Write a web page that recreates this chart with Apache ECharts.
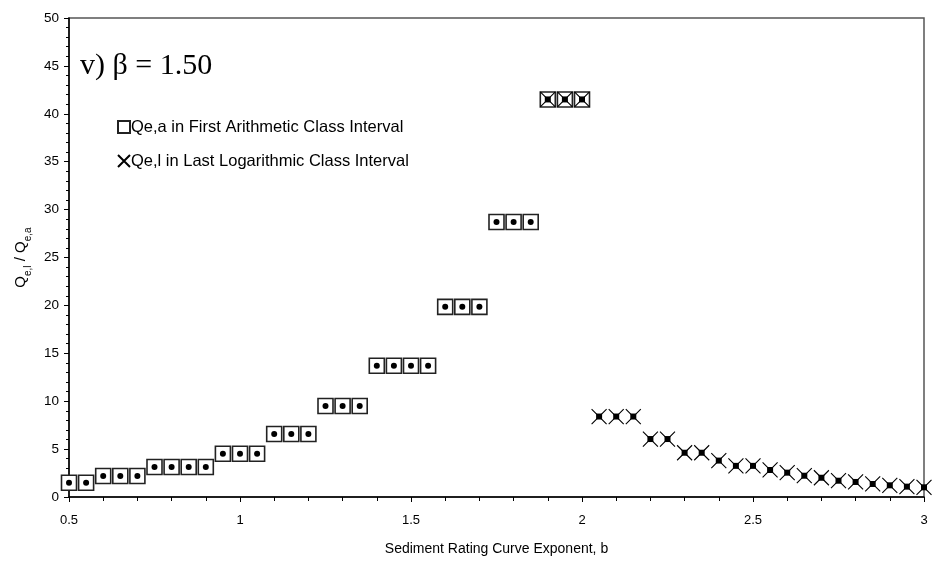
<!DOCTYPE html>
<html>
<head>
<meta charset="utf-8">
<script src="https://cdn.jsdelivr.net/npm/echarts@6/dist/echarts.min.js"></script>
<style>
  html, body { margin: 0; padding: 0; background: #fff; }
  #chart { width: 933px; height: 563px; }
</style>
</head>
<body>
<div id="chart"></div>
<script>
// Sediment rating curve exponent b (x) and discharge ratio Qe,l / Qe,a (y)
const exponentB = [
  0.5, 0.55, 0.6, 0.65, 0.7, 0.75, 0.8, 0.85, 0.9, 0.95,
  1.0, 1.05, 1.1, 1.15, 1.2, 1.25, 1.3, 1.35, 1.4, 1.45,
  1.5, 1.55, 1.6, 1.65, 1.7, 1.75, 1.8, 1.85, 1.9, 1.95,
  2.0, 2.05, 2.1, 2.15, 2.2, 2.25, 2.3, 2.35, 2.4, 2.45,
  2.5, 2.55, 2.6, 2.65, 2.7, 2.75, 2.8, 2.85, 2.9, 2.95,
  3.0
];
const flowRatio = [
  1.49, 1.49, 2.19, 2.19, 2.19, 3.13, 3.13, 3.13, 3.13, 4.52,
  4.52, 4.52, 6.58, 6.58, 6.58, 9.5, 9.5, 9.5, 13.7, 13.7,
  13.7, 13.7, 19.85, 19.85, 19.85, 28.7, 28.7, 28.7, 41.5, 41.5,
  41.5, 8.4, 8.4, 8.4, 6.05, 6.05, 4.62, 4.62, 3.8, 3.25,
  3.25, 2.82, 2.54, 2.22, 2.01, 1.7, 1.57, 1.36, 1.22, 1.08,
  1.01
];
// class interval in which the maximum occurs
const arithmeticUpTo = 2.0;     // Qe,a in first arithmetic class for b <= this
const logarithmicFrom = 1.9;    // Qe,l in last logarithmic class for b >= this

const yTicks = { min: 0, max: 50, interval: 5 };
const xTicks = { min: 0.5, max: 3, interval: 0.5 };

const pts = exponentB.map((b, i) => [b, flowRatio[i]]);
const arithPts = pts.filter(p => p[0] <= arithmeticUpTo + 1e-9);
const logPts = pts.filter(p => p[0] >= logarithmicFrom - 1e-9);

const FONT = '"Liberation Sans", Arial, sans-serif';
const crossPath = 'path://M0,0L10,10M10,0L0,10';

const chart = echarts.init(document.getElementById('chart'), null, { renderer: 'canvas' });
chart.setOption({
  animation: false,
  backgroundColor: '#fff',
  grid: {
    left: 69, right: 9, top: 18, bottom: 66,
    show: true, borderColor: '#555', borderWidth: 1.5, backgroundColor: 'transparent'
  },
  graphic: [{
    type: 'text', left: 80, top: 51,
    style: { text: 'v) \u03B2 = 1.50', font: '30px "Liberation Serif", "Times New Roman", serif', fill: '#000' }
  }],
  legend: {
    data: ['Qe,a in First Arithmetic Class Interval', 'Qe,l in Last Logarithmic Class Interval'],
    orient: 'vertical', left: 112, top: 113,
    itemWidth: 12, itemHeight: 12, itemGap: 16,
    textStyle: { fontFamily: FONT, fontSize: 16.5, lineHeight: 18, color: '#000', padding: [0, 0, 0, -4] }
  },
  xAxis: {
    type: 'value', min: xTicks.min, max: xTicks.max, interval: xTicks.interval,
    name: 'Sediment Rating Curve Exponent, b', nameLocation: 'middle', nameGap: 45,
    nameTextStyle: { fontFamily: FONT, fontSize: 14, color: '#000' },
    axisLine: { lineStyle: { color: '#000', width: 1.5 } },
    axisTick: { length: 5, lineStyle: { color: '#000' } },
    minorTick: { show: true, splitNumber: 5, length: 4, lineStyle: { color: '#000' } },
    splitLine: { show: false },
    axisLabel: { fontFamily: FONT, fontSize: 13, color: '#000', margin: 17 }
  },
  yAxis: {
    type: 'value', min: yTicks.min, max: yTicks.max, interval: yTicks.interval,
    name: '{q|Q}{s|e,l}{q| / Q}{s|e,a}', nameLocation: 'middle', nameRotate: 90, nameGap: 38,
    nameTextStyle: {
      rich: {
        q: { fontFamily: FONT, fontSize: 15, color: '#000', lineHeight: 20, verticalAlign: 'middle' },
        s: { fontFamily: FONT, fontSize: 10, color: '#000', lineHeight: 20, verticalAlign: 'bottom', padding: [0, 0, -2, 0] }
      }
    },
    axisLine: { lineStyle: { color: '#000', width: 1.5 } },
    axisTick: { length: 5, lineStyle: { color: '#000' } },
    minorTick: { show: true, splitNumber: 5, length: 3, lineStyle: { color: '#000' } },
    splitLine: { show: false },
    axisLabel: { fontFamily: FONT, fontSize: 13.5, color: '#000', margin: 10 }
  },
  series: [
    {
      name: 'Qe,a in First Arithmetic Class Interval',
      type: 'scatter', symbol: 'rect', symbolSize: 15, z: 2,
      itemStyle: { color: '#fff', borderColor: '#222', borderWidth: 1.6, opacity: 1 },
      data: arithPts
    },
    {
      name: 'Qe,l in Last Logarithmic Class Interval',
      type: 'scatter', symbol: crossPath, symbolSize: 15, z: 3,
      itemStyle: { color: 'rgba(0,0,0,0)', borderColor: '#000', borderWidth: 1.1, opacity: 1 },
      data: logPts
    },
    {
      name: 'ratio',
      type: 'scatter', z: 4,
      symbol: (v) => (v[0] >= logarithmicFrom - 1e-9 ? 'rect' : 'circle'),
      symbolSize: 6,
      itemStyle: { color: '#000', opacity: 1 },
      data: pts
    }
  ]
});
</script>
</body>
</html>
